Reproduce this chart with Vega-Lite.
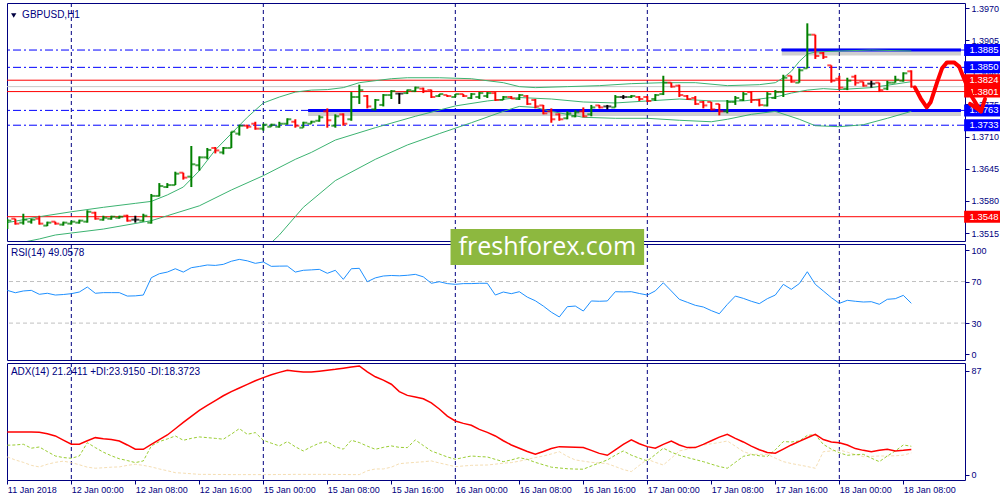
{
"$schema":"https://vega.github.io/schema/vega-lite/v6.json",
"background":"white",
"padding":{"left":3,"top":2,"right":0,"bottom":0},
"bounds":"flush",
"spacing":3,
"config":{"view":{"stroke":"#000080","strokeWidth":1},"font":"Liberation Sans","axis":{"labelFont":"Liberation Sans","labelFontSize":9,"labelColor":"#000080","tickColor":"#000080","domain":false,"grid":false,"tickSize":4,"labelOverlap":false,"labelBound":false,"labelPadding":2}},
"resolve":{"scale":{"x":"independent","y":"independent"}},
"datasets":{
"seps":[{"i":8},{"i":32},{"i":56},{"i":80},{"i":104}],
"levels":[{"p":1.3885,"k":"dd"},{"p":1.3850,"k":"dd"},{"p":1.3763,"k":"dd"},{"p":1.3733,"k":"dd"},{"p":1.3811,"k":"bid"},{"p":1.3824,"k":"red"},{"p":1.3801,"k":"red"},{"p":1.3548,"k":"red"}],
"zones":[{"p":1.3885,"a":96.8,"b":119.2},{"p":1.3763,"a":37.6,"b":119.2}],
"boxes":[{"p":1.3885,"k":"b"},{"p":1.3850,"k":"b"},{"p":1.3824,"k":"r"},{"p":1.3801,"k":"r"},{"p":1.3763,"k":"b"},{"p":1.3733,"k":"b"},{"p":1.3548,"k":"r"}],
"arrow":[{"s":"a","k":0,"i":113.46,"p":1.3809},{"s":"a","k":1,"i":114.18,"p":1.3787},{"s":"a","k":2,"i":114.93,"p":1.3769},{"s":"a","k":3,"i":115.43,"p":1.3780},{"s":"a","k":4,"i":116.21,"p":1.3819},{"s":"a","k":5,"i":116.84,"p":1.3848},{"s":"a","k":6,"i":117.46,"p":1.3860},{"s":"a","k":7,"i":118.34,"p":1.3860},{"s":"a","k":8,"i":118.96,"p":1.3852},{"s":"a","k":9,"i":119.8,"p":1.3819},{"s":"a","k":10,"i":120.59,"p":1.3790},{"s":"a","k":11,"i":121.46,"p":1.3767},{"s":"a","k":12,"i":121.71,"p":1.3761},{"s":"h","k":0,"i":120.34,"p":1.3776},{"s":"h","k":1,"i":121.71,"p":1.3761},{"s":"h","k":2,"i":122.21,"p":1.3786}],
"ohlc":[
{"i":0,"o":1.3529,"h":1.3544,"l":1.3523,"c":1.3540},
{"i":1,"o":1.3544,"h":1.3544,"l":1.3532,"c":1.3534},
{"i":2,"o":1.3536,"h":1.3554,"l":1.3532,"c":1.3542},
{"i":3,"o":1.3538,"h":1.3544,"l":1.3534,"c":1.3542},
{"i":4,"o":1.3544,"h":1.3550,"l":1.3532,"c":1.3534},
{"i":5,"o":1.3530,"h":1.3538,"l":1.3529,"c":1.3536},
{"i":6,"o":1.3538,"h":1.3538,"l":1.3532,"c":1.3534},
{"i":7,"o":1.3532,"h":1.3538,"l":1.3530,"c":1.3536},
{"i":8,"o":1.3534,"h":1.3540,"l":1.3532,"c":1.3538},
{"i":9,"o":1.3536,"h":1.3542,"l":1.3534,"c":1.3540},
{"i":10,"o":1.3538,"h":1.3561,"l":1.3536,"c":1.3558},
{"i":11,"o":1.3556,"h":1.3558,"l":1.3542,"c":1.3544},
{"i":12,"o":1.3542,"h":1.3550,"l":1.3540,"c":1.3546},
{"i":13,"o":1.3544,"h":1.3550,"l":1.3542,"c":1.3548},
{"i":14,"o":1.3546,"h":1.3550,"l":1.3544,"c":1.3548},
{"i":15,"o":1.3550,"h":1.3552,"l":1.3538,"c":1.3540},
{"i":16,"o":1.3542,"h":1.3550,"l":1.3536,"c":1.3542},
{"i":17,"o":1.3540,"h":1.3554,"l":1.3538,"c":1.3550},
{"i":18,"o":1.3536,"h":1.3594,"l":1.3534,"c":1.3590},
{"i":19,"o":1.3590,"h":1.3616,"l":1.3589,"c":1.3610},
{"i":20,"o":1.3608,"h":1.3616,"l":1.3606,"c":1.3612},
{"i":21,"o":1.3612,"h":1.3639,"l":1.3612,"c":1.3635},
{"i":22,"o":1.3637,"h":1.3637,"l":1.3623,"c":1.3627},
{"i":23,"o":1.3629,"h":1.3691,"l":1.3608,"c":1.3654},
{"i":24,"o":1.3652,"h":1.3670,"l":1.3641,"c":1.3668},
{"i":25,"o":1.3668,"h":1.3687,"l":1.3664,"c":1.3683},
{"i":26,"o":1.3687,"h":1.3689,"l":1.3676,"c":1.3682},
{"i":27,"o":1.3678,"h":1.3689,"l":1.3674,"c":1.3687},
{"i":28,"o":1.3687,"h":1.3720,"l":1.3687,"c":1.3720},
{"i":29,"o":1.3716,"h":1.3734,"l":1.3712,"c":1.3732},
{"i":30,"o":1.3732,"h":1.3734,"l":1.3726,"c":1.3730},
{"i":31,"o":1.3736,"h":1.3740,"l":1.3724,"c":1.3726},
{"i":32,"o":1.3726,"h":1.3736,"l":1.3722,"c":1.3734},
{"i":33,"o":1.3730,"h":1.3736,"l":1.3730,"c":1.3734},
{"i":34,"o":1.3730,"h":1.3740,"l":1.3728,"c":1.3736},
{"i":35,"o":1.3736,"h":1.3747,"l":1.3734,"c":1.3745},
{"i":36,"o":1.3740,"h":1.3745,"l":1.3728,"c":1.3732},
{"i":37,"o":1.3728,"h":1.3740,"l":1.3728,"c":1.3738},
{"i":38,"o":1.3736,"h":1.3742,"l":1.3736,"c":1.3740},
{"i":39,"o":1.3742,"h":1.3753,"l":1.3740,"c":1.3749},
{"i":40,"o":1.3761,"h":1.3767,"l":1.3728,"c":1.3743},
{"i":41,"o":1.3732,"h":1.3755,"l":1.3728,"c":1.3751},
{"i":42,"o":1.3755,"h":1.3757,"l":1.3732,"c":1.3736},
{"i":43,"o":1.3745,"h":1.3800,"l":1.3742,"c":1.3790},
{"i":44,"o":1.3790,"h":1.3815,"l":1.3776,"c":1.3804},
{"i":45,"o":1.3792,"h":1.3794,"l":1.3767,"c":1.3771},
{"i":46,"o":1.3765,"h":1.3786,"l":1.3763,"c":1.3784},
{"i":47,"o":1.3774,"h":1.3796,"l":1.3771,"c":1.3794},
{"i":48,"o":1.3794,"h":1.3804,"l":1.3786,"c":1.3802},
{"i":49,"o":1.3797,"h":1.3798,"l":1.3776,"c":1.3797},
{"i":50,"o":1.3798,"h":1.3805,"l":1.3796,"c":1.3804},
{"i":51,"o":1.3802,"h":1.3811,"l":1.3800,"c":1.3809},
{"i":52,"o":1.3807,"h":1.3809,"l":1.3798,"c":1.3802},
{"i":53,"o":1.3804,"h":1.3805,"l":1.3788,"c":1.3790},
{"i":54,"o":1.3792,"h":1.3796,"l":1.3790,"c":1.3796},
{"i":55,"o":1.3794,"h":1.3794,"l":1.3790,"c":1.3792},
{"i":56,"o":1.3790,"h":1.3796,"l":1.3790,"c":1.3796},
{"i":57,"o":1.3796,"h":1.3796,"l":1.3790,"c":1.3792},
{"i":58,"o":1.3788,"h":1.3798,"l":1.3786,"c":1.3796},
{"i":59,"o":1.3790,"h":1.3800,"l":1.3786,"c":1.3798},
{"i":60,"o":1.3792,"h":1.3800,"l":1.3788,"c":1.3798},
{"i":61,"o":1.3798,"h":1.3800,"l":1.3782,"c":1.3784},
{"i":62,"o":1.3784,"h":1.3792,"l":1.3784,"c":1.3790},
{"i":63,"o":1.3790,"h":1.3792,"l":1.3786,"c":1.3787},
{"i":64,"o":1.3786,"h":1.3796,"l":1.3784,"c":1.3794},
{"i":65,"o":1.3792,"h":1.3794,"l":1.3774,"c":1.3776},
{"i":66,"o":1.3784,"h":1.3786,"l":1.3767,"c":1.3771},
{"i":67,"o":1.3773,"h":1.3774,"l":1.3755,"c":1.3757},
{"i":68,"o":1.3761,"h":1.3767,"l":1.3738,"c":1.3745},
{"i":69,"o":1.3755,"h":1.3757,"l":1.3742,"c":1.3745},
{"i":70,"o":1.3747,"h":1.3761,"l":1.3745,"c":1.3757},
{"i":71,"o":1.3751,"h":1.3763,"l":1.3749,"c":1.3759},
{"i":72,"o":1.3761,"h":1.3769,"l":1.3749,"c":1.3751},
{"i":73,"o":1.3755,"h":1.3774,"l":1.3751,"c":1.3769},
{"i":74,"o":1.3773,"h":1.3774,"l":1.3767,"c":1.3769},
{"i":75,"o":1.3771,"h":1.3774,"l":1.3765,"c":1.3771},
{"i":76,"o":1.3769,"h":1.3794,"l":1.3769,"c":1.3790},
{"i":77,"o":1.3790,"h":1.3794,"l":1.3786,"c":1.3790},
{"i":78,"o":1.3790,"h":1.3794,"l":1.3788,"c":1.3792},
{"i":79,"o":1.3790,"h":1.3792,"l":1.3782,"c":1.3786},
{"i":80,"o":1.3790,"h":1.3792,"l":1.3780,"c":1.3782},
{"i":81,"o":1.3786,"h":1.3796,"l":1.3782,"c":1.3794},
{"i":82,"o":1.3796,"h":1.3833,"l":1.3794,"c":1.3819},
{"i":83,"o":1.3819,"h":1.3819,"l":1.3809,"c":1.3811},
{"i":84,"o":1.3813,"h":1.3815,"l":1.3790,"c":1.3794},
{"i":85,"o":1.3792,"h":1.3794,"l":1.3784,"c":1.3786},
{"i":86,"o":1.3788,"h":1.3792,"l":1.3774,"c":1.3776},
{"i":87,"o":1.3780,"h":1.3782,"l":1.3767,"c":1.3773},
{"i":88,"o":1.3780,"h":1.3780,"l":1.3763,"c":1.3765},
{"i":89,"o":1.3776,"h":1.3776,"l":1.3753,"c":1.3761},
{"i":90,"o":1.3761,"h":1.3784,"l":1.3757,"c":1.3780},
{"i":91,"o":1.3780,"h":1.3792,"l":1.3774,"c":1.3788},
{"i":92,"o":1.3784,"h":1.3800,"l":1.3782,"c":1.3796},
{"i":93,"o":1.3800,"h":1.3802,"l":1.3778,"c":1.3784},
{"i":94,"o":1.3784,"h":1.3786,"l":1.3771,"c":1.3774},
{"i":95,"o":1.3773,"h":1.3800,"l":1.3771,"c":1.3796},
{"i":96,"o":1.3788,"h":1.3804,"l":1.3786,"c":1.3800},
{"i":97,"o":1.3800,"h":1.3835,"l":1.3790,"c":1.3829},
{"i":98,"o":1.3833,"h":1.3833,"l":1.3819,"c":1.3821},
{"i":99,"o":1.3819,"h":1.3848,"l":1.3819,"c":1.3844},
{"i":100,"o":1.3848,"h":1.3939,"l":1.3848,"c":1.3916},
{"i":101,"o":1.3916,"h":1.3916,"l":1.3867,"c":1.3873},
{"i":102,"o":1.3879,"h":1.3881,"l":1.3867,"c":1.3871},
{"i":103,"o":1.3854,"h":1.3854,"l":1.3819,"c":1.3823},
{"i":104,"o":1.3827,"h":1.3833,"l":1.3805,"c":1.3809},
{"i":105,"o":1.3807,"h":1.3829,"l":1.3804,"c":1.3823},
{"i":106,"o":1.3831,"h":1.3835,"l":1.3813,"c":1.3819},
{"i":107,"o":1.3821,"h":1.3821,"l":1.3811,"c":1.3813},
{"i":108,"o":1.3817,"h":1.3823,"l":1.3809,"c":1.3817},
{"i":109,"o":1.3819,"h":1.3819,"l":1.3800,"c":1.3804},
{"i":110,"o":1.3807,"h":1.3823,"l":1.3804,"c":1.3819},
{"i":111,"o":1.3819,"h":1.3833,"l":1.3819,"c":1.3825},
{"i":112,"o":1.3823,"h":1.3840,"l":1.3821,"c":1.3838},
{"i":113,"o":1.3842,"h":1.3844,"l":1.3809,"c":1.3811}
],
"bands":[
{"b":"u","i":0,"v":1.3536},{"b":"u","i":4,"v":1.3548},{"b":"u","i":8,"v":1.3558},{"b":"u","i":12,"v":1.3567},{"b":"u","i":16,"v":1.3575},{"b":"u","i":18,"v":1.3579},{"b":"u","i":20,"v":1.3592},{"b":"u","i":22,"v":1.3608},{"b":"u","i":24,"v":1.3641},{"b":"u","i":26,"v":1.3683},{"b":"u","i":28,"v":1.3716},{"b":"u","i":30,"v":1.3749},{"b":"u","i":32,"v":1.3778},{"b":"u","i":34,"v":1.3790},{"b":"u","i":36,"v":1.3800},{"b":"u","i":38,"v":1.3804},{"b":"u","i":40,"v":1.3805},{"b":"u","i":42,"v":1.3809},{"b":"u","i":44,"v":1.3819},{"b":"u","i":46,"v":1.3823},{"b":"u","i":48,"v":1.3827},{"b":"u","i":50,"v":1.3829},{"b":"u","i":54,"v":1.3829},{"b":"u","i":58,"v":1.3827},{"b":"u","i":62,"v":1.3819},{"b":"u","i":64,"v":1.3811},{"b":"u","i":66,"v":1.3809},{"b":"u","i":70,"v":1.3811},{"b":"u","i":74,"v":1.3813},{"b":"u","i":78,"v":1.3817},{"b":"u","i":82,"v":1.3819},{"b":"u","i":86,"v":1.3819},{"b":"u","i":90,"v":1.3813},{"b":"u","i":94,"v":1.3815},{"b":"u","i":96,"v":1.3819},{"b":"u","i":97,"v":1.3829},{"b":"u","i":98,"v":1.3842},{"b":"u","i":99,"v":1.3862},{"b":"u","i":100,"v":1.3877},{"b":"u","i":101,"v":1.3881},{"b":"u","i":104,"v":1.3883},{"b":"u","i":108,"v":1.3885},{"b":"u","i":113,"v":1.3883},
{"b":"m","i":0,"v":1.3490},{"b":"m","i":4,"v":1.3503},{"b":"m","i":6,"v":1.3511},{"b":"m","i":12,"v":1.3523},{"b":"m","i":18,"v":1.3540},{"b":"m","i":20,"v":1.3550},{"b":"m","i":24,"v":1.3570},{"b":"m","i":28,"v":1.3602},{"b":"m","i":32,"v":1.3631},{"b":"m","i":36,"v":1.3664},{"b":"m","i":38,"v":1.3678},{"b":"m","i":41,"v":1.3703},{"b":"m","i":46,"v":1.3728},{"b":"m","i":51,"v":1.3751},{"b":"m","i":56,"v":1.3772},{"b":"m","i":60,"v":1.3782},{"b":"m","i":64,"v":1.3789},{"b":"m","i":68,"v":1.3786},{"b":"m","i":72,"v":1.3780},{"b":"m","i":76,"v":1.3778},{"b":"m","i":80,"v":1.3782},{"b":"m","i":84,"v":1.3786},{"b":"m","i":88,"v":1.3782},{"b":"m","i":92,"v":1.3782},{"b":"m","i":96,"v":1.3790},{"b":"m","i":98,"v":1.3798},{"b":"m","i":100,"v":1.3804},{"b":"m","i":102,"v":1.3807},{"b":"m","i":104,"v":1.3805},{"b":"m","i":108,"v":1.3809},{"b":"m","i":113,"v":1.3821},
{"b":"l","i":32,"v":1.3480},{"b":"l","i":34,"v":1.3511},{"b":"l","i":37,"v":1.3567},{"b":"l","i":41,"v":1.3621},{"b":"l","i":46,"v":1.3664},{"b":"l","i":50,"v":1.3693},{"b":"l","i":54,"v":1.3716},{"b":"l","i":58,"v":1.3738},{"b":"l","i":62,"v":1.3761},{"b":"l","i":64,"v":1.3771},{"b":"l","i":66,"v":1.3769},{"b":"l","i":68,"v":1.3761},{"b":"l","i":70,"v":1.3755},{"b":"l","i":72,"v":1.3749},{"b":"l","i":76,"v":1.3747},{"b":"l","i":80,"v":1.3747},{"b":"l","i":84,"v":1.3743},{"b":"l","i":88,"v":1.3740},{"b":"l","i":90,"v":1.3745},{"b":"l","i":93,"v":1.3755},{"b":"l","i":96,"v":1.3761},{"b":"l","i":99,"v":1.3745},{"b":"l","i":101,"v":1.3732},{"b":"l","i":104,"v":1.3730},{"b":"l","i":107,"v":1.3734},{"b":"l","i":110,"v":1.3747},{"b":"l","i":113,"v":1.3761}
],
"rsi":[
{"i":0,"v":61.5},{"i":1,"v":59.2},{"i":2,"v":60.9},{"i":3,"v":61.5},{"i":4,"v":57.7},{"i":5,"v":58.7},{"i":6,"v":57.0},{"i":7,"v":57.5},{"i":8,"v":58.3},{"i":9,"v":59.9},{"i":10,"v":64.7},{"i":11,"v":58.7},{"i":12,"v":59.3},{"i":13,"v":59.3},{"i":14,"v":59.3},{"i":15,"v":56.0},{"i":16,"v":56.2},{"i":17,"v":57.0},{"i":18,"v":73.7},{"i":19,"v":77.5},{"i":20,"v":79.1},{"i":21,"v":82.3},{"i":22,"v":79.1},{"i":23,"v":83.3},{"i":24,"v":84.5},{"i":25,"v":85.9},{"i":26,"v":85.5},{"i":27,"v":86.5},{"i":28,"v":89.5},{"i":29,"v":91.3},{"i":30,"v":89.9},{"i":31,"v":87.5},{"i":32,"v":88.8},{"i":33,"v":84.6},{"i":34,"v":84.8},{"i":35,"v":84.9},{"i":36,"v":79.1},{"i":37,"v":80.8},{"i":38,"v":81.2},{"i":39,"v":81.7},{"i":40,"v":77.9},{"i":41,"v":80.8},{"i":42,"v":72.1},{"i":43,"v":82.3},{"i":44,"v":82.7},{"i":45,"v":69.8},{"i":46,"v":73.5},{"i":47,"v":75.3},{"i":48,"v":75.8},{"i":49,"v":75.5},{"i":50,"v":76.0},{"i":51,"v":76.9},{"i":52,"v":74.5},{"i":53,"v":68.3},{"i":54,"v":69.8},{"i":55,"v":68.0},{"i":56,"v":67.3},{"i":57,"v":68.0},{"i":58,"v":68.0},{"i":59,"v":68.3},{"i":60,"v":68.3},{"i":61,"v":57.0},{"i":62,"v":59.9},{"i":63,"v":58.3},{"i":64,"v":60.2},{"i":65,"v":55.0},{"i":66,"v":51.5},{"i":67,"v":46.4},{"i":68,"v":40.5},{"i":69,"v":35.9},{"i":70,"v":45.8},{"i":71,"v":46.4},{"i":72,"v":41.6},{"i":73,"v":51.3},{"i":74,"v":51.0},{"i":75,"v":51.3},{"i":76,"v":60.2},{"i":77,"v":60.0},{"i":78,"v":60.2},{"i":79,"v":58.5},{"i":80,"v":57.0},{"i":81,"v":61.0},{"i":82,"v":68.8},{"i":83,"v":60.9},{"i":84,"v":52.9},{"i":85,"v":50.0},{"i":86,"v":47.1},{"i":87,"v":45.5},{"i":88,"v":42.0},{"i":89,"v":39.0},{"i":90,"v":48.0},{"i":91,"v":56.0},{"i":92,"v":53.8},{"i":93,"v":51.0},{"i":94,"v":48.7},{"i":95,"v":53.5},{"i":96,"v":57.0},{"i":97,"v":67.3},{"i":98,"v":62.5},{"i":99,"v":68.0},{"i":100,"v":79.4},{"i":101,"v":67.3},{"i":102,"v":60.9},{"i":103,"v":54.5},{"i":104,"v":49.0},{"i":105,"v":51.9},{"i":106,"v":51.0},{"i":107,"v":50.3},{"i":108,"v":50.6},{"i":109,"v":48.1},{"i":110,"v":52.9},{"i":111,"v":53.5},{"i":112,"v":56.7},{"i":113,"v":49.06}
],
"adx":[
{"i":0,"a":35.8,"p":24.8,"m":15.0},{"i":1,"a":35.8,"p":25.0,"m":12.5},{"i":2,"a":35.8,"p":25.6,"m":10.5},{"i":3,"a":35.8,"p":22.3,"m":8.0},{"i":4,"a":35.5,"p":23.3,"m":6.7},{"i":5,"a":34.4,"p":19.5,"m":8.9},{"i":6,"a":32.5,"p":15.8,"m":10.5},{"i":7,"a":29.0,"p":14.5,"m":11.5},{"i":8,"a":25.6,"p":13.9,"m":10.3},{"i":9,"a":25.6,"p":15.8,"m":8.5},{"i":10,"a":28.5,"p":26.9,"m":6.5},{"i":11,"a":31.1,"p":22.8,"m":5.6},{"i":12,"a":30.2,"p":19.0,"m":6.0},{"i":13,"a":29.5,"p":16.0,"m":6.5},{"i":14,"a":28.3,"p":13.5,"m":6.7},{"i":15,"a":25.0,"p":12.0,"m":8.0},{"i":16,"a":21.4,"p":10.3,"m":8.9},{"i":17,"a":21.4,"p":11.7,"m":8.0},{"i":18,"a":25.5,"p":24.2,"m":6.7},{"i":19,"a":29.5,"p":27.8,"m":5.0},{"i":20,"a":33.3,"p":30.0,"m":3.5},{"i":21,"a":38.5,"p":32.5,"m":1.9},{"i":22,"a":43.8,"p":28.9,"m":1.5},{"i":23,"a":48.9,"p":30.5,"m":1.0},{"i":24,"a":53.9,"p":31.7,"m":0.5},{"i":25,"a":58.0,"p":31.1,"m":0.5},{"i":26,"a":62.0,"p":30.5,"m":0.4},{"i":27,"a":66.0,"p":29.8,"m":0.4},{"i":28,"a":69.5,"p":34.0,"m":0.3},{"i":29,"a":72.5,"p":38.6,"m":0.3},{"i":30,"a":75.5,"p":33.9,"m":0.3},{"i":31,"a":78.5,"p":35.3,"m":0.3},{"i":32,"a":81.1,"p":28.9,"m":0.3},{"i":33,"a":83.5,"p":26.5,"m":0.3},{"i":34,"a":85.5,"p":24.2,"m":0.4},{"i":35,"a":87.2,"p":27.8,"m":0.4},{"i":36,"a":86.5,"p":23.5,"m":0.5},{"i":37,"a":85.8,"p":20.0,"m":0.5},{"i":38,"a":85.8,"p":23.5,"m":0.5},{"i":39,"a":86.5,"p":26.5,"m":0.5},{"i":40,"a":87.3,"p":27.8,"m":0.5},{"i":41,"a":88.0,"p":23.5,"m":0.4},{"i":42,"a":89.0,"p":21.5,"m":0.4},{"i":43,"a":90.0,"p":28.9,"m":0.3},{"i":44,"a":90.8,"p":27.0,"m":0.3},{"i":45,"a":86.0,"p":24.0,"m":3.5},{"i":46,"a":81.8,"p":21.4,"m":5.0},{"i":47,"a":79.0,"p":23.0,"m":5.0},{"i":48,"a":75.6,"p":24.2,"m":6.5},{"i":49,"a":69.5,"p":23.0,"m":9.4},{"i":50,"a":66.3,"p":22.8,"m":10.0},{"i":51,"a":65.0,"p":29.2,"m":10.5},{"i":52,"a":63.5,"p":24.5,"m":11.0},{"i":53,"a":60.0,"p":20.0,"m":11.7},{"i":54,"a":55.0,"p":17.5,"m":10.0},{"i":55,"a":49.0,"p":15.0,"m":8.5},{"i":56,"a":45.0,"p":13.1,"m":6.9},{"i":57,"a":43.0,"p":14.5,"m":7.5},{"i":58,"a":41.4,"p":15.8,"m":8.0},{"i":59,"a":38.0,"p":15.3,"m":8.2},{"i":60,"a":35.5,"p":15.0,"m":8.3},{"i":61,"a":32.5,"p":13.0,"m":9.0},{"i":62,"a":28.5,"p":11.1,"m":9.8},{"i":63,"a":25.0,"p":12.5,"m":10.3},{"i":64,"a":22.3,"p":14.4,"m":11.5},{"i":65,"a":19.5,"p":13.0,"m":13.0},{"i":66,"a":17.3,"p":10.5,"m":14.5},{"i":67,"a":19.5,"p":8.5,"m":15.8},{"i":68,"a":22.0,"p":6.5,"m":17.5},{"i":69,"a":23.6,"p":5.8,"m":19.4},{"i":70,"a":23.3,"p":5.2,"m":15.5},{"i":71,"a":23.0,"p":4.9,"m":12.5},{"i":72,"a":22.8,"p":4.8,"m":11.5},{"i":73,"a":20.5,"p":7.5,"m":10.5},{"i":74,"a":18.0,"p":10.0,"m":10.0},{"i":75,"a":16.4,"p":12.5,"m":9.4},{"i":76,"a":21.0,"p":16.5,"m":7.0},{"i":77,"a":25.5,"p":20.0,"m":4.5},{"i":78,"a":29.2,"p":16.5,"m":2.8},{"i":79,"a":26.0,"p":14.0,"m":8.0},{"i":80,"a":23.6,"p":11.7,"m":13.1},{"i":81,"a":22.3,"p":17.0,"m":10.5},{"i":82,"a":25.5,"p":22.3,"m":8.3},{"i":83,"a":28.3,"p":19.0,"m":14.0},{"i":84,"a":25.0,"p":16.4,"m":20.0},{"i":85,"a":22.8,"p":14.5,"m":21.5},{"i":86,"a":22.8,"p":12.8,"m":23.5},{"i":87,"a":25.5,"p":11.1,"m":25.0},{"i":88,"a":28.5,"p":9.0,"m":26.0},{"i":89,"a":31.5,"p":7.0,"m":27.0},{"i":90,"a":33.9,"p":5.6,"m":28.3},{"i":91,"a":30.5,"p":10.5,"m":24.0},{"i":92,"a":27.5,"p":15.5,"m":19.5},{"i":93,"a":24.0,"p":17.0,"m":17.2},{"i":94,"a":21.0,"p":16.0,"m":17.2},{"i":95,"a":18.8,"p":15.5,"m":17.2},{"i":96,"a":18.1,"p":21.0,"m":14.0},{"i":97,"a":21.5,"p":27.8,"m":11.1},{"i":98,"a":25.0,"p":27.5,"m":9.5},{"i":99,"a":28.0,"p":28.3,"m":8.3},{"i":100,"a":31.0,"p":33.0,"m":7.0},{"i":101,"a":33.9,"p":33.5,"m":5.6},{"i":102,"a":29.5,"p":25.5,"m":19.4},{"i":103,"a":27.5,"p":21.5,"m":20.0},{"i":104,"a":26.8,"p":18.5,"m":20.8},{"i":105,"a":25.0,"p":16.4,"m":19.0},{"i":106,"a":22.0,"p":17.0,"m":17.0},{"i":107,"a":20.5,"p":17.2,"m":15.3},{"i":108,"a":19.4,"p":14.0,"m":15.5},{"i":109,"a":20.5,"p":11.1,"m":15.8},{"i":110,"a":21.4,"p":15.8,"m":15.8},{"i":111,"a":20.0,"p":20.0,"m":16.0},{"i":112,"a":20.5,"p":25.0,"m":16.5},{"i":113,"a":21.24,"p":23.92,"m":18.37}
]
},
"vconcat":[
{
"width":958,"height":238,
"layer":[
{"data":{"name":"seps"},"mark":{"type":"rule","color":"#000080","strokeDash":[4,3],"strokeWidth":1},"encoding":{"x":{"field":"i","type":"quantitative","scale":{"domain":[-0.04,119.71],"nice":false,"zero":false},"axis":null}}},
{"data":{"name":"levels"},"transform":[{"filter":"datum.k=='dd'"}],"mark":{"type":"rule","color":"#0000ff","strokeDash":[8,3,2,3],"strokeWidth":1},"encoding":{"y":{"field":"p","type":"quantitative","scale":{"domain":[1.3509,1.397],"nice":false,"zero":false},"axis":{"orient":"right","title":null,"values":[1.3515,1.358,1.3645,1.371,1.3775,1.384,1.3905,1.397],"format":".4f"}}}},
{"data":{"name":"levels"},"transform":[{"filter":"datum.k!='dd'"}],"mark":{"type":"rule","strokeWidth":1},"encoding":{"y":{"field":"p","type":"quantitative","scale":{"domain":[1.3509,1.397],"nice":false,"zero":false},"axis":{"orient":"right","title":null,"values":[1.3515,1.358,1.3645,1.371,1.3775,1.384,1.3905,1.397],"format":".4f"}},"color":{"condition":{"test":"datum.k=='bid'","value":"#c8c8c8"},"value":"#ff0000"}}},
{"data":{"name":"zones"},"mark":{"type":"rule","color":"#606060","opacity":0.3,"strokeWidth":7,"yOffset":2},"encoding":{"x":{"field":"a","type":"quantitative","scale":{"domain":[-0.04,119.71],"nice":false,"zero":false},"axis":null},"x2":{"field":"b"},"y":{"field":"p","type":"quantitative","scale":{"domain":[1.3509,1.397],"nice":false,"zero":false},"axis":{"orient":"right","title":null,"values":[1.3515,1.358,1.3645,1.371,1.3775,1.384,1.3905,1.397],"format":".4f"}}}},
{"data":{"name":"zones"},"mark":{"type":"rule","color":"#0000ff","strokeWidth":3},"encoding":{"x":{"field":"a","type":"quantitative","scale":{"domain":[-0.04,119.71],"nice":false,"zero":false},"axis":null},"x2":{"field":"b"},"y":{"field":"p","type":"quantitative","scale":{"domain":[1.3509,1.397],"nice":false,"zero":false},"axis":{"orient":"right","title":null,"values":[1.3515,1.358,1.3645,1.371,1.3775,1.384,1.3905,1.397],"format":".4f"}}}},
{"data":{"name":"bands"},"mark":{"type":"line","color":"#3cb371","strokeWidth":1,"clip":true},"encoding":{"x":{"field":"i","type":"quantitative","scale":{"domain":[-0.04,119.71],"nice":false,"zero":false},"axis":null},"y":{"field":"v","type":"quantitative","scale":{"domain":[1.3509,1.397],"nice":false,"zero":false},"axis":{"orient":"right","title":null,"values":[1.3515,1.358,1.3645,1.371,1.3775,1.384,1.3905,1.397],"format":".4f"}},"detail":{"field":"b"}}},
{"data":{"name":"ohlc"},"mark":{"type":"rule","strokeWidth":2,"clip":true},"encoding":{"x":{"field":"i","type":"quantitative","scale":{"domain":[-0.04,119.71],"nice":false,"zero":false},"axis":null},"y":{"field":"l","type":"quantitative","scale":{"domain":[1.3509,1.397],"nice":false,"zero":false},"axis":{"orient":"right","title":null,"values":[1.3515,1.358,1.3645,1.371,1.3775,1.384,1.3905,1.397],"format":".4f"}},"y2":{"field":"h"},"color":{"condition":[{"test":"datum.c>datum.o","value":"#008000"},{"test":"datum.c<datum.o","value":"#ff0000"}],"value":"#000000"}}},
{"data":{"name":"ohlc"},"mark":{"type":"tick","orient":"horizontal","size":4,"thickness":2,"xOffset":-2,"clip":true},"encoding":{"x":{"field":"i","type":"quantitative","scale":{"domain":[-0.04,119.71],"nice":false,"zero":false},"axis":null},"y":{"field":"o","type":"quantitative","scale":{"domain":[1.3509,1.397],"nice":false,"zero":false},"axis":{"orient":"right","title":null,"values":[1.3515,1.358,1.3645,1.371,1.3775,1.384,1.3905,1.397],"format":".4f"}},"color":{"condition":[{"test":"datum.c>datum.o","value":"#008000"},{"test":"datum.c<datum.o","value":"#ff0000"}],"value":"#000000"}}},
{"data":{"name":"ohlc"},"mark":{"type":"tick","orient":"horizontal","size":4,"thickness":2,"xOffset":2,"clip":true},"encoding":{"x":{"field":"i","type":"quantitative","scale":{"domain":[-0.04,119.71],"nice":false,"zero":false},"axis":null},"y":{"field":"c","type":"quantitative","scale":{"domain":[1.3509,1.397],"nice":false,"zero":false},"axis":{"orient":"right","title":null,"values":[1.3515,1.358,1.3645,1.371,1.3775,1.384,1.3905,1.397],"format":".4f"}},"color":{"condition":[{"test":"datum.c>datum.o","value":"#008000"},{"test":"datum.c<datum.o","value":"#ff0000"}],"value":"#000000"}}},
{"data":{"name":"boxes"},"mark":{"type":"bar","orient":"horizontal","size":12,"clip":false},"encoding":{"x":{"datum":119.6,"type":"quantitative","scale":{"domain":[-0.04,119.71],"nice":false,"zero":false},"axis":null},"x2":{"datum":124.6},"y":{"field":"p","type":"quantitative","scale":{"domain":[1.3509,1.397],"nice":false,"zero":false},"axis":{"orient":"right","title":null,"values":[1.3515,1.358,1.3645,1.371,1.3775,1.384,1.3905,1.397],"format":".4f"}},"color":{"condition":{"test":"datum.k=='r'","value":"#ff0000"},"value":"#0000ff"}}},
{"data":{"name":"boxes"},"mark":{"type":"text","color":"#ffffff","fontSize":9.5,"align":"center","baseline":"middle","clip":false},"encoding":{"x":{"datum":122.1,"type":"quantitative","scale":{"domain":[-0.04,119.71],"nice":false,"zero":false},"axis":null},"y":{"field":"p","type":"quantitative","scale":{"domain":[1.3509,1.397],"nice":false,"zero":false},"axis":{"orient":"right","title":null,"values":[1.3515,1.358,1.3645,1.371,1.3775,1.384,1.3905,1.397],"format":".4f"}},"text":{"field":"p","format":".4f"}}},
{"data":{"name":"arrow"},"mark":{"type":"line","color":"#ff0000","strokeWidth":4,"strokeCap":"round","strokeJoin":"round","clip":false},"encoding":{"x":{"field":"i","type":"quantitative","scale":{"domain":[-0.04,119.71],"nice":false,"zero":false},"axis":null},"y":{"field":"p","type":"quantitative","scale":{"domain":[1.3509,1.397],"nice":false,"zero":false},"axis":{"orient":"right","title":null,"values":[1.3515,1.358,1.3645,1.371,1.3775,1.384,1.3905,1.397],"format":".4f"}},"detail":{"field":"s"},"order":{"field":"k"}}},
{"data":{"values":[{"t":"GBPUSD,H1"}]},"mark":{"type":"text","color":"#000080","fontSize":10,"align":"left","baseline":"middle"},"encoding":{"x":{"datum":1.85,"type":"quantitative","scale":{"domain":[-0.04,119.71],"nice":false,"zero":false},"axis":null},"y":{"datum":1.3955,"type":"quantitative","scale":{"domain":[1.3509,1.397],"nice":false,"zero":false},"axis":{"orient":"right","title":null,"values":[1.3515,1.358,1.3645,1.371,1.3775,1.384,1.3905,1.397],"format":".4f"}},"text":{"field":"t"}}},
{"data":{"values":[{"t":"v"}]},"mark":{"type":"point","shape":"triangle-down","filled":true,"size":28,"color":"#000040","opacity":1},"encoding":{"x":{"datum":0.8,"type":"quantitative","scale":{"domain":[-0.04,119.71],"nice":false,"zero":false},"axis":null},"y":{"datum":1.3955,"type":"quantitative","scale":{"domain":[1.3509,1.397],"nice":false,"zero":false},"axis":{"orient":"right","title":null,"values":[1.3515,1.358,1.3645,1.371,1.3775,1.384,1.3905,1.397],"format":".4f"}}}}
]
},
{
"width":958,"height":116,
"layer":[
{"data":{"name":"seps"},"mark":{"type":"rule","color":"#000080","strokeDash":[4,3],"strokeWidth":1},"encoding":{"x":{"field":"i","type":"quantitative","scale":{"domain":[-0.04,119.71],"nice":false,"zero":false},"axis":null}}},
{"data":{"values":[{"v":30},{"v":70}]},"mark":{"type":"rule","color":"#c0c0c0","strokeDash":[4,3],"strokeWidth":1},"encoding":{"y":{"field":"v","type":"quantitative","scale":{"domain":[-5.5,106.1],"nice":false,"zero":false},"axis":{"orient":"right","title":null,"values":[0,30,70,100],"format":"d"}}}},
{"data":{"name":"rsi"},"mark":{"type":"line","color":"#1e90ff","strokeWidth":1},"encoding":{"x":{"field":"i","type":"quantitative","scale":{"domain":[-0.04,119.71],"nice":false,"zero":false},"axis":null},"y":{"field":"v","type":"quantitative","scale":{"domain":[-5.5,106.1],"nice":false,"zero":false},"axis":{"orient":"right","title":null,"values":[0,30,70,100],"format":"d"}}}},
{"data":{"values":[{"t":"freshforex.com"}]},"mark":{"type":"rect","color":"#8db83f","clip":false},"encoding":{"x":{"datum":55.4,"type":"quantitative","scale":{"domain":[-0.04,119.71],"nice":false,"zero":false},"axis":null},"x2":{"datum":79.6},"y":{"datum":120.5,"type":"quantitative","scale":{"domain":[-5.5,106.1],"nice":false,"zero":false},"axis":{"orient":"right","title":null,"values":[0,30,70,100],"format":"d"}},"y2":{"datum":85.9}}},
{"data":{"values":[{"t":"freshforex.com"}]},"mark":{"type":"text","color":"#ffffff","font":"Open Sans","fontSize":25,"align":"center","baseline":"middle","clip":false},"encoding":{"x":{"datum":67.5,"type":"quantitative","scale":{"domain":[-0.04,119.71],"nice":false,"zero":false},"axis":null},"y":{"datum":103.5,"type":"quantitative","scale":{"domain":[-5.5,106.1],"nice":false,"zero":false},"axis":{"orient":"right","title":null,"values":[0,30,70,100],"format":"d"}},"text":{"field":"t"}}},
{"data":{"values":[{"t":"RSI(14) 49.0578"}]},"mark":{"type":"text","color":"#000080","fontSize":10,"align":"left","baseline":"middle"},"encoding":{"x":{"datum":0.45,"type":"quantitative","scale":{"domain":[-0.04,119.71],"nice":false,"zero":false},"axis":null},"y":{"datum":97.4,"type":"quantitative","scale":{"domain":[-5.5,106.1],"nice":false,"zero":false},"axis":{"orient":"right","title":null,"values":[0,30,70,100],"format":"d"}},"text":{"field":"t"}}}
]
},
{
"width":958,"height":117,
"layer":[
{"data":{"name":"seps"},"mark":{"type":"rule","color":"#000080","strokeDash":[4,3],"strokeWidth":1},"encoding":{"x":{"field":"i","type":"quantitative","scale":{"domain":[-0.04,119.71],"nice":false,"zero":false},"axis":{"orient":"bottom","title":null,"values":[0,8,16,24,32,40,48,56,64,72,80,88,96,104,112],"labelAlign":"left","labelPadding":1,"labelExpr":"['11 Jan 2018','12 Jan 00:00','12 Jan 08:00','12 Jan 16:00','15 Jan 00:00','15 Jan 08:00','15 Jan 16:00','16 Jan 00:00','16 Jan 08:00','16 Jan 16:00','17 Jan 00:00','17 Jan 08:00','17 Jan 16:00','18 Jan 00:00','18 Jan 08:00'][round(datum.value/8)]"}}}},
{"data":{"name":"adx"},"mark":{"type":"line","color":"#f5deb3","strokeWidth":1,"strokeDash":[3,2]},"encoding":{"x":{"field":"i","type":"quantitative","scale":{"domain":[-0.04,119.71],"nice":false,"zero":false},"axis":{"orient":"bottom","title":null,"values":[0,8,16,24,32,40,48,56,64,72,80,88,96,104,112],"labelAlign":"left","labelPadding":1,"labelExpr":"['11 Jan 2018','12 Jan 00:00','12 Jan 08:00','12 Jan 16:00','15 Jan 00:00','15 Jan 08:00','15 Jan 16:00','16 Jan 00:00','16 Jan 08:00','16 Jan 16:00','17 Jan 00:00','17 Jan 08:00','17 Jan 16:00','18 Jan 00:00','18 Jan 08:00'][round(datum.value/8)]"}},"y":{"field":"m","type":"quantitative","scale":{"domain":[-4.2,93.3],"nice":false,"zero":false},"axis":{"orient":"right","title":null,"values":[0,87],"format":"d"}}}},
{"data":{"name":"adx"},"mark":{"type":"line","color":"#9acd32","strokeWidth":1,"strokeDash":[3,2]},"encoding":{"x":{"field":"i","type":"quantitative","scale":{"domain":[-0.04,119.71],"nice":false,"zero":false},"axis":{"orient":"bottom","title":null,"values":[0,8,16,24,32,40,48,56,64,72,80,88,96,104,112],"labelAlign":"left","labelPadding":1,"labelExpr":"['11 Jan 2018','12 Jan 00:00','12 Jan 08:00','12 Jan 16:00','15 Jan 00:00','15 Jan 08:00','15 Jan 16:00','16 Jan 00:00','16 Jan 08:00','16 Jan 16:00','17 Jan 00:00','17 Jan 08:00','17 Jan 16:00','18 Jan 00:00','18 Jan 08:00'][round(datum.value/8)]"}},"y":{"field":"p","type":"quantitative","scale":{"domain":[-4.2,93.3],"nice":false,"zero":false},"axis":{"orient":"right","title":null,"values":[0,87],"format":"d"}}}},
{"data":{"name":"adx"},"mark":{"type":"line","color":"#ff0000","strokeWidth":1.5},"encoding":{"x":{"field":"i","type":"quantitative","scale":{"domain":[-0.04,119.71],"nice":false,"zero":false},"axis":{"orient":"bottom","title":null,"values":[0,8,16,24,32,40,48,56,64,72,80,88,96,104,112],"labelAlign":"left","labelPadding":1,"labelExpr":"['11 Jan 2018','12 Jan 00:00','12 Jan 08:00','12 Jan 16:00','15 Jan 00:00','15 Jan 08:00','15 Jan 16:00','16 Jan 00:00','16 Jan 08:00','16 Jan 16:00','17 Jan 00:00','17 Jan 08:00','17 Jan 16:00','18 Jan 00:00','18 Jan 08:00'][round(datum.value/8)]"}},"y":{"field":"a","type":"quantitative","scale":{"domain":[-4.2,93.3],"nice":false,"zero":false},"axis":{"orient":"right","title":null,"values":[0,87],"format":"d"}}}},
{"data":{"values":[{"t":"ADX(14) 21.2411 +DI:23.9150 -DI:18.3723"}]},"mark":{"type":"text","color":"#000080","fontSize":10,"align":"left","baseline":"middle"},"encoding":{"x":{"datum":0.45,"type":"quantitative","scale":{"domain":[-0.04,119.71],"nice":false,"zero":false},"axis":{"orient":"bottom","title":null,"values":[0,8,16,24,32,40,48,56,64,72,80,88,96,104,112],"labelAlign":"left","labelPadding":1,"labelExpr":"['11 Jan 2018','12 Jan 00:00','12 Jan 08:00','12 Jan 16:00','15 Jan 00:00','15 Jan 08:00','15 Jan 16:00','16 Jan 00:00','16 Jan 08:00','16 Jan 16:00','17 Jan 00:00','17 Jan 08:00','17 Jan 16:00','18 Jan 00:00','18 Jan 08:00'][round(datum.value/8)]"}},"y":{"datum":85.8,"type":"quantitative","scale":{"domain":[-4.2,93.3],"nice":false,"zero":false},"axis":{"orient":"right","title":null,"values":[0,87],"format":"d"}},"text":{"field":"t"}}}
]
}
]
}
